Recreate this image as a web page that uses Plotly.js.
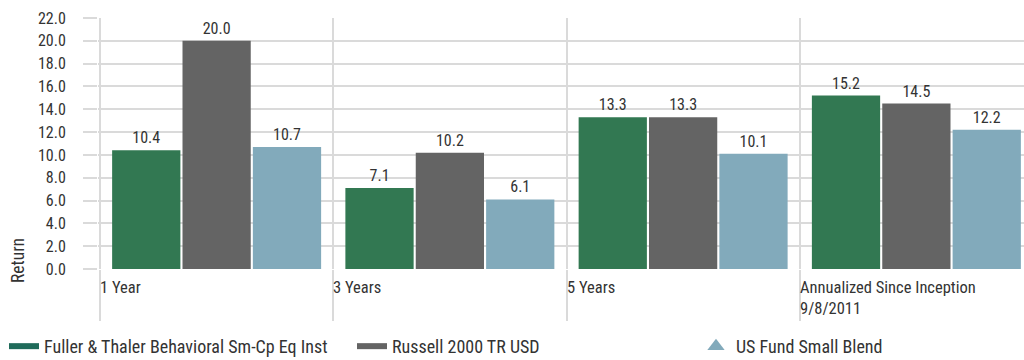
<!DOCTYPE html>
<html>
<head>
<meta charset="utf-8">
<script src="https://cdn.plot.ly/plotly-3.0.1.min.js"></script>
<style>
  html, body { margin: 0; padding: 0; overflow: hidden; background: #fff; }
  #chart { width: 1034px; height: 360px; }
</style>
</head>
<body>
<div id="chart"></div>
<script>
// Trailing returns by period
const categories = ['1 Year', '3 Years', '5 Years', 'Annualized Since Inception<br>9/8/2011'];
const seriesNames = ['Fuller & Thaler Behavioral Sm-Cp Eq Inst', 'Russell 2000 TR USD', 'US Fund Small Blend'];
const fundReturns = [10.4, 7.1, 13.3, 15.2];
const indexReturns = [20.0, 10.2, 13.3, 14.5];
const categoryReturns = [10.7, 6.1, 10.1, 12.2];
const yTickValues = [0, 2, 4, 6, 8, 10, 12, 14, 16, 18, 20, 22];

const colors = ['#327852', '#646464', '#82aabb'];
const FONT = 'Roboto Condensed, Liberation Sans Narrow, DejaVu Sans Condensed, Arial Narrow, sans-serif';
const GRID = '#dadada';
const W = 1034;

const seriesValues = [fundReturns, indexReturns, categoryReturns];

const barTraces = seriesValues.map((vals, i) => ({
  type: 'bar',
  x: categories,
  y: vals,
  name: seriesNames[i],
  marker: { color: colors[i] },
  text: vals.map(v => v.toFixed(1)),
  textposition: 'outside',
  cliponaxis: false,
  textfont: { family: FONT, size: 16, color: '#333' },
  showlegend: false,
  hoverinfo: 'skip'
}));

// Legend keys: solid strokes for fund and index, triangle for the category;
// each key lives in its own legend so the three sit in fixed columns
const legendTraces = [
  { type: 'scatter', mode: 'lines', x: [null], y: [null], name: seriesNames[0], legend: 'legend',
    line: { color: '#1f6b5a', width: 6 }, hoverinfo: 'skip' },
  { type: 'scatter', mode: 'lines', x: [null], y: [null], name: seriesNames[1], legend: 'legend2',
    line: { color: colors[1], width: 6 }, hoverinfo: 'skip' },
  { type: 'scatter', mode: 'markers', x: [null], y: [null], name: seriesNames[2], legend: 'legend3',
    marker: { color: colors[2], symbol: 'triangle-up', size: 15 }, hoverinfo: 'skip' }
];

function legendAt(px) {
  return {
    orientation: 'h',
    xref: 'container', yref: 'container',
    x: px / W, xanchor: 'left',
    y: 0.089, yanchor: 'top',
    font: { family: FONT, size: 18, color: '#333' },
    bgcolor: 'rgba(0,0,0,0)'
  };
}

// Period labels sit left-aligned at each category boundary
const periodLabels = categories.map((c, i) => ({
  xref: 'x', yref: 'paper',
  x: i - 0.5, y: 0,
  xanchor: 'left', yanchor: 'top', align: 'left',
  yshift: -7, xshift: -2,
  text: c, showarrow: false,
  font: { family: FONT, size: 16.5, color: '#333' }
}));

const layout = {
  width: W, height: 360,
  margin: { l: 98, r: 1, t: 18, b: 91 },
  paper_bgcolor: '#fff', plot_bgcolor: '#fff',
  font: { family: FONT, size: 16, color: '#333' },
  barmode: 'group',
  bargap: 0.095,
  bargroupgap: 0.03,
  xaxis: {
    type: 'category',
    tickson: 'boundaries',
    showgrid: true, gridcolor: GRID, gridwidth: 2,
    ticks: 'outside', ticklen: 51, tickwidth: 2, tickcolor: GRID,
    showticklabels: false,
    showline: false, zeroline: false,
    fixedrange: true
  },
  yaxis: {
    range: [0, 22],
    tickvals: yTickValues,
    tickformat: '.1f',
    showgrid: true, gridcolor: GRID, gridwidth: 2,
    ticks: 'outside', ticklen: 14, tickwidth: 2, tickcolor: GRID,
    ticklabelstandoff: 14,
    tickfont: { family: FONT, size: 16, color: '#333' },
    zeroline: false, showline: false,
    fixedrange: true
  },
  annotations: periodLabels.concat([{
    xref: 'paper', yref: 'paper',
    x: 0, y: (269 - 261) / 251,
    xshift: -80, xanchor: 'center', yanchor: 'middle',
    textangle: -90, text: 'Return', showarrow: false,
    font: { family: FONT, size: 17.5, color: '#333' }
  }]),
  legend: legendAt(4),
  legend2: legendAt(352),
  legend3: legendAt(696),
  showlegend: true,
  hovermode: false
};

Plotly.newPlot('chart', barTraces.concat(legendTraces), layout, { displayModeBar: false, staticPlot: true });
</script>
</body>
</html>
